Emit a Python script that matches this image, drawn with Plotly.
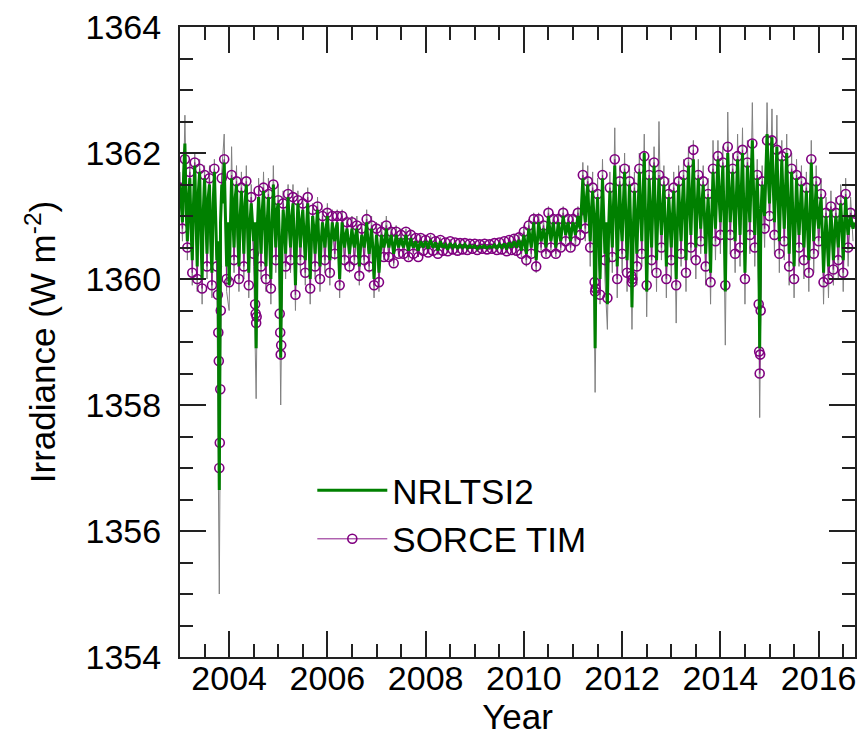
import numpy as np
import plotly.graph_objects as go

# ---- data ----
start_year = 2003.0
nrl_step = 0.025   # NRLTSI2 sampling (years)
tim_step = 0.05    # SORCE TIM / grey series sampling (years)

nrltsi2_values = [
    # 2003
    1361.5, 1361.2, 1360.9, 1361.7, 1362.15, 1361.1, 1360.6, 1361.3, 1361.6, 1360.8,
    1360.3, 1361.2, 1361.8, 1361.0, 1360.2, 1361.4, 1361.7, 1360.7, 1360.0, 1361.1,
    1361.6, 1361.0, 1360.4, 1361.3, 1361.5, 1360.6, 1360.1, 1361.2, 1361.7, 1361.0,
    1360.3, 1360.6, 1356.65, 1360.9, 1361.5, 1361.2, 1361.85, 1361.0, 1360.2, 1360.9,
    # 2004
    1359.9, 1360.8, 1361.6, 1361.0, 1360.5, 1361.3, 1361.5, 1360.7, 1360.2, 1361.0,
    1361.4, 1360.9, 1360.4, 1361.2, 1361.5, 1360.8, 1360.1, 1360.9, 1361.2, 1360.9,
    1360.6, 1360.9, 1358.9, 1360.8, 1361.3, 1360.9, 1360.4, 1361.1, 1361.4, 1360.8,
    1360.2, 1360.9, 1361.3, 1360.6, 1360.0, 1360.9, 1361.5, 1361.0, 1360.5, 1361.1,
    # 2005
    1361.2, 1360.6, 1358.75, 1360.5, 1361.1, 1360.8, 1360.4, 1361.0, 1361.3, 1360.8,
    1360.5, 1361.0, 1361.2, 1360.6, 1359.9, 1360.7, 1361.2, 1360.9, 1360.5, 1360.9,
    1361.1, 1360.7, 1360.3, 1360.8, 1361.2, 1360.6, 1360.0, 1360.6, 1361.0, 1360.8,
    1360.4, 1360.8, 1361.1, 1360.6, 1360.2, 1360.6, 1360.9, 1360.7, 1360.5, 1360.8,
    # 2006
    1361.0, 1360.7, 1360.3, 1360.6, 1360.9, 1360.7, 1360.6, 1360.8, 1360.9, 1360.5,
    1360.0, 1360.5, 1360.9, 1360.7, 1360.5, 1360.7, 1360.8, 1360.6, 1360.4, 1360.6,
    1360.8, 1360.6, 1360.5, 1360.7, 1360.8, 1360.5, 1360.2, 1360.5, 1360.7, 1360.6,
    1360.5, 1360.7, 1360.9, 1360.6, 1360.4, 1360.6, 1360.8, 1360.5, 1360.0, 1360.4,
    # 2007
    1360.7, 1360.5, 1360.1, 1360.4, 1360.7, 1360.6, 1360.5, 1360.6, 1360.8, 1360.6,
    1360.5, 1360.6, 1360.7, 1360.55, 1360.4, 1360.55, 1360.7, 1360.6, 1360.5, 1360.6,
    1360.65, 1360.55, 1360.5, 1360.6, 1360.7, 1360.55, 1360.45, 1360.55, 1360.65, 1360.55,
    1360.5, 1360.55, 1360.6, 1360.5, 1360.45, 1360.55, 1360.6, 1360.55, 1360.5, 1360.55,
    # 2008
    1360.6, 1360.55, 1360.48, 1360.56, 1360.62, 1360.55, 1360.5, 1360.54, 1360.58, 1360.52,
    1360.45, 1360.52, 1360.6, 1360.55, 1360.5, 1360.53, 1360.55, 1360.5, 1360.47, 1360.52,
    1360.57, 1360.53, 1360.5, 1360.53, 1360.55, 1360.51, 1360.48, 1360.52, 1360.54, 1360.52,
    1360.5, 1360.52, 1360.55, 1360.52, 1360.49, 1360.51, 1360.53, 1360.51, 1360.5, 1360.52,
    # 2009
    1360.53, 1360.5, 1360.48, 1360.5, 1360.52, 1360.51, 1360.5, 1360.52, 1360.53, 1360.5,
    1360.49, 1360.51, 1360.52, 1360.51, 1360.5, 1360.52, 1360.54, 1360.51, 1360.48, 1360.52,
    1360.55, 1360.52, 1360.5, 1360.53, 1360.56, 1360.52, 1360.47, 1360.53, 1360.58, 1360.54,
    1360.5, 1360.55, 1360.6, 1360.55, 1360.5, 1360.56, 1360.62, 1360.55, 1360.45, 1360.58,
    # 2010
    1360.7, 1360.55, 1360.4, 1360.6, 1360.8, 1360.65, 1360.5, 1360.7, 1360.9, 1360.6,
    1360.3, 1360.6, 1360.9, 1360.75, 1360.6, 1360.7, 1360.8, 1360.65, 1360.5, 1360.75,
    1361.0, 1360.8, 1360.6, 1360.75, 1360.9, 1360.7, 1360.5, 1360.7, 1360.9, 1360.75,
    1360.6, 1360.8, 1361.0, 1360.85, 1360.7, 1360.8, 1360.9, 1360.75, 1360.6, 1360.8,
    # 2011
    1360.9, 1360.8, 1360.7, 1360.85, 1361.0, 1360.85, 1360.8, 1361.2, 1361.6, 1361.1,
    1360.9, 1361.3, 1361.5, 1361.0, 1360.6, 1361.1, 1361.4, 1361.0, 1358.9, 1360.9,
    1361.3, 1360.7, 1360.0, 1360.9, 1361.6, 1361.0, 1360.4, 1360.9, 1359.6, 1360.8,
    1361.4, 1360.9, 1360.5, 1361.2, 1361.8, 1361.1, 1360.2, 1360.9, 1361.5, 1360.9,
    # 2012
    1360.6, 1361.2, 1361.7, 1361.0, 1360.3, 1360.9, 1361.5, 1360.8, 1359.55, 1360.7,
    1361.4, 1360.9, 1360.4, 1361.1, 1361.7, 1361.1, 1360.6, 1361.3, 1362.0, 1361.0,
    1359.8, 1360.8, 1361.6, 1361.0, 1360.5, 1361.2, 1361.8, 1361.1, 1360.3, 1361.0,
    1361.6, 1361.1, 1360.7, 1361.1, 1361.5, 1360.9, 1360.2, 1360.8, 1361.3, 1360.9,
    # 2013
    1360.5, 1361.0, 1361.4, 1360.8, 1360.0, 1360.9, 1361.5, 1361.0, 1360.6, 1361.2,
    1361.6, 1361.0, 1360.3, 1361.1, 1361.8, 1361.2, 1360.7, 1361.4, 1361.9, 1361.2,
    1360.5, 1361.1, 1361.6, 1361.2, 1360.8, 1361.2, 1361.5, 1361.0, 1360.4, 1360.9,
    1361.3, 1360.8, 1360.1, 1361.0, 1361.7, 1361.2, 1360.8, 1361.4, 1361.9, 1361.3,
    # 2014
    1360.9, 1361.4, 1361.8, 1361.0, 1359.8, 1361.1, 1362.0, 1361.4, 1360.9, 1361.3,
    1361.7, 1361.1, 1360.6, 1361.3, 1361.9, 1361.3, 1360.7, 1361.4, 1362.0, 1361.2,
    1360.1, 1361.0, 1361.8, 1361.3, 1360.9, 1361.6, 1362.2, 1361.4, 1360.7, 1361.2,
    1361.6, 1361.0, 1358.9, 1361.0, 1361.5, 1361.2, 1361.0, 1361.7, 1362.3, 1361.6,
    # 2015
    1361.2, 1361.8, 1362.25, 1361.5, 1360.9, 1361.5, 1362.1, 1361.3, 1360.6, 1361.3,
    1361.9, 1361.3, 1360.8, 1361.4, 1362.0, 1361.2, 1360.4, 1361.1, 1361.7, 1361.0,
    1360.2, 1360.9, 1361.6, 1361.1, 1360.7, 1361.1, 1361.5, 1361.0, 1360.5, 1361.0,
    1361.4, 1360.8, 1360.3, 1361.0, 1361.85, 1361.2, 1360.6, 1361.1, 1361.5, 1361.0,
    # 2016
    1360.8, 1361.1, 1361.3, 1360.7, 1360.1, 1360.6, 1361.0, 1360.6, 1360.2, 1360.7,
    1361.1, 1360.7, 1360.3, 1360.7, 1361.0, 1360.8, 1360.5, 1360.9, 1361.2, 1360.8,
    1360.3, 1360.8, 1361.3, 1360.9, 1360.7, 1360.9, 1361.0, 1360.9, 1360.8, 1360.9,
]

sorce_tim_values = [
    # 2003
    1361.45, 1360.8, 1361.9, 1360.5, 1361.7, 1360.1, 1361.85, 1360.0, 1361.75, 1359.85,
    1361.65, 1360.2, 1361.6, 1359.9, 1361.75, 1360.2, 1357.0, 1361.6, 1361.9, 1360.0,
    # 2004
    1359.95, 1361.65, 1360.3, 1361.55, 1360.0, 1361.45, 1360.2, 1361.55, 1359.9, 1361.3,
    1360.4, 1359.3, 1361.4, 1360.2, 1361.45, 1360.0, 1361.35, 1359.85, 1361.5, 1360.3,
    # 2005
    1361.25, 1358.8, 1361.2, 1360.2, 1361.35, 1360.3, 1361.3, 1359.75, 1361.25, 1360.3,
    1361.2, 1360.1, 1361.3, 1359.85, 1361.1, 1360.2, 1361.15, 1360.0, 1361.0, 1360.3,
    # 2006
    1361.05, 1360.1, 1361.0, 1360.4, 1361.0, 1359.9, 1361.0, 1360.3, 1360.9, 1360.2,
    1360.9, 1360.3, 1360.85, 1360.05, 1360.8, 1360.3, 1360.95, 1360.2, 1360.85, 1359.9,
    # 2007
    1360.8, 1359.95, 1360.75, 1360.35, 1360.85, 1360.35, 1360.75, 1360.25, 1360.75, 1360.4,
    1360.7, 1360.4, 1360.75, 1360.35, 1360.7, 1360.4, 1360.65, 1360.35, 1360.65, 1360.45,
    # 2008
    1360.62, 1360.42, 1360.65, 1360.45, 1360.6, 1360.4, 1360.62, 1360.45, 1360.58, 1360.44,
    1360.6, 1360.47, 1360.58, 1360.45, 1360.57, 1360.47, 1360.57, 1360.46, 1360.56, 1360.48,
    # 2009
    1360.56, 1360.46, 1360.55, 1360.48, 1360.56, 1360.47, 1360.55, 1360.48, 1360.57, 1360.46,
    1360.58, 1360.47, 1360.6, 1360.44, 1360.62, 1360.46, 1360.64, 1360.45, 1360.66, 1360.4,
    # 2010
    1360.75, 1360.3, 1360.85, 1360.4, 1360.95, 1360.2, 1360.95, 1360.5, 1360.85, 1360.4,
    1361.05, 1360.5, 1360.95, 1360.4, 1360.95, 1360.5, 1361.05, 1360.6, 1360.95, 1360.5,
    # 2011
    1360.95, 1360.6, 1361.05, 1360.7, 1361.65, 1360.8, 1361.55, 1360.5, 1361.45, 1359.8,
    1361.35, 1359.75, 1361.65, 1360.3, 1359.7, 1361.45, 1360.35, 1361.9, 1360.0, 1361.55,
    # 2012
    1360.4, 1361.75, 1360.1, 1361.55, 1359.95, 1361.45, 1360.2, 1361.75, 1360.4, 1361.95,
    1359.9, 1361.65, 1360.3, 1361.85, 1360.1, 1361.65, 1360.5, 1361.55, 1360.0, 1361.35,
    # 2013
    1360.3, 1361.45, 1359.9, 1361.55, 1360.4, 1361.65, 1360.1, 1361.85, 1360.5, 1362.05,
    1360.3, 1361.65, 1360.6, 1361.55, 1360.2, 1361.35, 1359.95, 1361.75, 1360.6, 1361.95,
    # 2014
    1360.7, 1361.85, 1359.9, 1362.1, 1360.7, 1361.75, 1360.4, 1361.95, 1360.5, 1362.05,
    1360.0, 1361.85, 1360.7, 1362.15, 1360.5, 1361.65, 1358.5, 1361.55, 1360.8, 1362.2,
    # 2015
    1361.0, 1362.2, 1360.7, 1362.05, 1360.4, 1361.95, 1360.6, 1362.0, 1360.2, 1361.75,
    1360.0, 1361.65, 1360.5, 1361.55, 1360.3, 1361.45, 1360.1, 1361.9, 1360.4, 1361.55,
    # 2016
    1360.6, 1361.35, 1359.95, 1361.05, 1360.0, 1361.15, 1360.15, 1361.05, 1360.3, 1361.25,
    1360.1, 1361.35, 1360.5, 1361.05, 1360.9,
]

# extra SORCE TIM days inside the sunspot dips
tim_dip_years = [2003.77, 2003.78, 2003.79, 2003.81, 2003.82, 2003.83,
                 2004.53, 2004.54, 2004.56, 2005.03, 2005.04, 2005.06,
                 2011.44, 2011.46, 2012.19, 2012.21,
                 2014.78, 2014.79, 2014.81, 2014.82]
tim_dip_values = [1359.75, 1359.15, 1358.7, 1357.4, 1358.25, 1359.5,
                  1359.6, 1359.45, 1359.4, 1359.45, 1359.15, 1358.95,
                  1359.95, 1359.85, 1360.05, 1360.0,
                  1359.6, 1358.85, 1358.8, 1359.5]

grey_values = [
    # 2003
    1361.7, 1360.6, 1362.6, 1360.3, 1361.9, 1359.9, 1362.0, 1359.8, 1361.9, 1359.6,
    1361.8, 1360.0, 1361.8, 1359.7, 1361.9, 1359.9, 1355.0, 1361.7, 1362.3, 1359.8,
    # 2004
    1359.5, 1362.1, 1360.1, 1361.8, 1359.8, 1361.7, 1360.0, 1361.8, 1359.7, 1361.5,
    1360.2, 1358.1, 1361.6, 1360.0, 1361.7, 1359.8, 1361.6, 1359.6, 1361.8, 1360.1,
    # 2005
    1361.5, 1358.0, 1361.4, 1360.0, 1361.5, 1360.1, 1361.5, 1359.5, 1361.4, 1360.1,
    1361.3, 1359.9, 1361.45, 1359.6, 1361.2, 1360.0, 1361.3, 1359.8, 1361.1, 1360.1,
    # 2006
    1361.2, 1359.9, 1361.1, 1360.3, 1361.1, 1359.7, 1361.1, 1360.2, 1361.0, 1360.1,
    1361.0, 1360.2, 1361.0, 1359.9, 1360.9, 1360.2, 1361.1, 1360.1, 1361.0, 1359.7,
    # 2007
    1360.9, 1359.8, 1360.9, 1360.3, 1361.0, 1360.3, 1360.85, 1360.2, 1360.85, 1360.35,
    1360.8, 1360.35, 1360.8, 1360.3, 1360.75, 1360.4, 1360.7, 1360.35, 1360.7, 1360.4,
    # 2008
    1360.68, 1360.4, 1360.7, 1360.42, 1360.65, 1360.38, 1360.66, 1360.42, 1360.62, 1360.42,
    1360.63, 1360.44, 1360.62, 1360.42, 1360.6, 1360.44, 1360.6, 1360.44, 1360.6, 1360.45,
    # 2009
    1360.6, 1360.43, 1360.58, 1360.45, 1360.6, 1360.44, 1360.58, 1360.45, 1360.6, 1360.43,
    1360.62, 1360.44, 1360.64, 1360.41, 1360.66, 1360.43, 1360.7, 1360.42, 1360.72, 1360.35,
    # 2010
    1360.85, 1360.2, 1360.95, 1360.35, 1361.05, 1360.1, 1361.05, 1360.45, 1360.95, 1360.35,
    1361.15, 1360.45, 1361.05, 1360.35, 1361.05, 1360.45, 1361.15, 1360.55, 1361.05, 1360.45,
    # 2011
    1361.05, 1360.5, 1361.15, 1360.6, 1361.85, 1360.6, 1361.8, 1360.2, 1361.7, 1358.2,
    1361.6, 1359.6, 1361.9, 1360.0, 1359.2, 1361.7, 1360.1, 1362.4, 1359.7, 1361.8,
    # 2012
    1360.1, 1362.0, 1359.8, 1361.8, 1359.2, 1361.7, 1359.9, 1362.0, 1360.2, 1362.3,
    1359.4, 1361.9, 1360.1, 1362.1, 1359.8, 1362.5, 1360.3, 1361.8, 1359.7, 1361.6,
    # 2013
    1360.0, 1361.7, 1359.3, 1361.8, 1360.2, 1361.9, 1359.8, 1362.1, 1360.3, 1362.2,
    1360.0, 1361.9, 1360.4, 1361.8, 1359.9, 1361.6, 1359.6, 1362.2, 1360.3, 1362.2,
    # 2014
    1360.4, 1362.1, 1358.95, 1362.65, 1360.4, 1362.0, 1360.1, 1362.3, 1360.2, 1362.4,
    1359.6, 1362.2, 1360.4, 1362.8, 1360.2, 1361.9, 1357.8, 1361.8, 1360.5, 1362.8,
    # 2015
    1360.8, 1362.7, 1360.4, 1362.6, 1360.1, 1362.2, 1360.3, 1362.3, 1359.9, 1362.0,
    1359.7, 1361.9, 1360.2, 1361.8, 1360.0, 1361.7, 1359.8, 1362.2, 1360.1, 1361.8,
    # 2016
    1360.4, 1361.6, 1359.6, 1361.3, 1359.7, 1361.4, 1359.9, 1361.3, 1360.0, 1361.5,
    1359.8, 1361.6, 1360.2, 1361.3, 1360.6,
]

x_tick_values = [2004, 2006, 2008, 2010, 2012, 2014, 2016]
y_tick_values = [1354, 1356, 1358, 1360, 1362, 1364]

# ---- build ----
nrl_years = np.round(start_year + nrl_step * np.arange(len(nrltsi2_values)), 4)
tim_years = np.round(start_year + tim_step * np.arange(len(sorce_tim_values)), 4)
grey_years = np.round(start_year + tim_step * np.arange(len(grey_values)), 4)

tim_x = np.concatenate([tim_years, np.array(tim_dip_years)])
tim_y = np.concatenate([np.array(sorce_tim_values), np.array(tim_dip_values)])
order = np.argsort(tim_x, kind="stable")
tim_x, tim_y = tim_x[order], tim_y[order]

FONT = "Liberation Sans, Arial, Helvetica, sans-serif"
AX = "#222222"

fig = go.Figure()
fig.add_trace(go.Scatter(x=grey_years, y=grey_values, mode="lines",
                         line=dict(color="#808080", width=1),
                         showlegend=False, hoverinfo="skip"))
fig.add_trace(go.Scatter(x=tim_x, y=tim_y, mode="lines+markers", name="SORCE TIM",
                         line=dict(color="#8B1A8B", width=1),
                         marker=dict(symbol="circle-open", size=9, color="#800080",
                                     line=dict(width=1.6, color="#800080")),
                         legendrank=2))
fig.add_trace(go.Scatter(x=nrl_years, y=nrltsi2_values, mode="lines", name="NRLTSI2",
                         line=dict(color="#008000", width=3),
                         legendrank=1))

axis_common = dict(
    showline=True, linecolor=AX, linewidth=2, mirror="ticks",
    ticks="inside", tickcolor=AX, tickwidth=2, ticklen=26,
    showgrid=False, zeroline=False,
    tickfont=dict(family=FONT, size=34, color="black"),
)

fig.update_xaxes(range=[2003.0, 2016.74], tickvals=x_tick_values,
                 ticktext=[str(v) for v in x_tick_values],
                 ticklabelstandoff=-10,
                 minor=dict(dtick=0.5, tick0=2003.0, ticks="inside", ticklen=13,
                            tickwidth=2, tickcolor=AX, showgrid=False),
                 title=dict(text="Year", font=dict(family=FONT, size=35, color="black"),
                            standoff=0),
                 **axis_common)
fig.update_yaxes(range=[1354, 1364], tickvals=y_tick_values,
                 ticklabelstandoff=10,
                 minor=dict(dtick=0.5, tick0=1354, ticks="inside", ticklen=13,
                            tickwidth=2, tickcolor=AX, showgrid=False),
                 title=dict(text="Irradiance (W m<sup>-2</sup>)",
                            font=dict(family=FONT, size=35, color="black"), standoff=19),
                 **axis_common)

fig.update_layout(
    width=865, height=737,
    margin=dict(l=180, r=8, t=24, b=80),
    paper_bgcolor="white", plot_bgcolor="white",
    legend=dict(x=0.196, y=0.311, xanchor="left", yanchor="top",
                bgcolor="rgba(0,0,0,0)", itemwidth=70,
                font=dict(family=FONT, size=35, color="black"),
                tracegroupgap=0),
    showlegend=True,
)

fig.write_html("out.html")
